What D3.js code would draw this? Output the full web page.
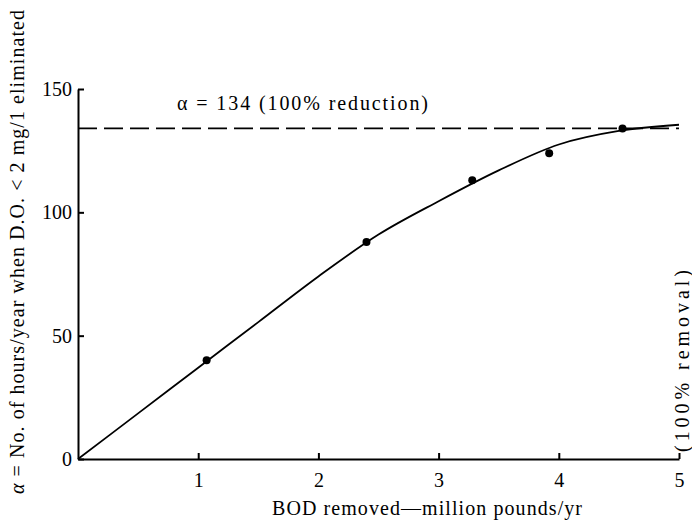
<!DOCTYPE html>
<style>
body { margin: 0; background: #fff; }
svg { font-family: "Liberation Serif", "Times New Roman", serif; }
</style>
<script src="https://d3js.org/d3.v7.min.js"></script>
<svg width="692" height="526"></svg>
<script>
// measured points
var bodX = [1.07, 2.40, 3.28, 3.92, 4.53];
var alphaY = [40, 88, 113, 124, 134];

// smooth fitted curve
var curveX = [0, 0.5, 1, 1.5, 2, 2.5, 3, 3.5, 4, 4.5, 5];
var curveY = [0, 18.5, 37, 55.5, 74, 91, 104.5, 117, 127.5, 133, 135.5];

var xTicks = [1, 2, 3, 4, 5];
var yTicks = [0, 50, 100, 150];
var alphaMax = 134;

var svg = d3.select("svg");

var x = d3.scaleLinear().domain([0, 5]).range([78, 679]),
    y = d3.scaleLinear().domain([0, 150]).range([459, 89]);

var axisStyle = function(g) {
  g.select(".domain").attr("stroke-width", 2).attr("stroke", "#000");
  g.selectAll(".tick line").attr("stroke-width", 2).attr("stroke", "#000");
  g.selectAll(".tick text").attr("font-size", 20).attr("fill", "#000")
    .attr("font-family", "Liberation Serif, serif");
};

svg.append("g")
    .attr("transform", "translate(0," + y(0) + ")")
    .call(d3.axisTop(x).tickValues(xTicks).tickSize(6).tickSizeOuter(0).tickFormat(d3.format("d")))
    .call(axisStyle)
    .call(function(g) {
      g.selectAll(".tick text").attr("y", 28).attr("dy", 0);
    });

svg.append("g")
    .attr("transform", "translate(" + x(0) + ",0)")
    .call(d3.axisRight(y).tickValues(yTicks).tickSize(6).tickSizeOuter(0).tickFormat(d3.format("d")))
    .call(axisStyle)
    .call(function(g) {
      g.selectAll(".tick text").attr("x", -6).attr("text-anchor", "end");
    });

// 100% reduction line
svg.append("line")
    .attr("x1", x(0)).attr("x2", x(5))
    .attr("y1", y(alphaMax)).attr("y2", y(alphaMax))
    .attr("stroke", "#000").attr("stroke-width", 1.8)
    .attr("stroke-dasharray", "19,7");

svg.append("text")
    .attr("x", 177).attr("y", y(alphaMax) - 18)
    .attr("font-size", 20)
    .attr("textLength", 251)
    .attr("lengthAdjust", "spacing")
    .text("\u03b1 = 134 (100% reduction)");

var line = d3.line()
    .x(function(d) { return x(d[0]); })
    .y(function(d) { return y(d[1]); })
    .curve(d3.curveMonotoneX);

svg.append("path")
    .datum(d3.zip(curveX, curveY))
    .attr("d", line)
    .attr("fill", "none")
    .attr("stroke", "#000")
    .attr("stroke-width", 1.8);

svg.selectAll("circle.pt")
    .data(d3.zip(bodX, alphaY))
  .enter().append("circle")
    .attr("class", "pt")
    .attr("cx", function(d) { return x(d[0]); })
    .attr("cy", function(d) { return y(d[1]); })
    .attr("r", 4)
    .attr("fill", "#000");

svg.append("text")
    .attr("x", 427).attr("y", 515)
    .attr("text-anchor", "middle")
    .attr("font-size", 20)
    .attr("textLength", 310)
    .attr("lengthAdjust", "spacing")
    .text("BOD removed\u2014million pounds/yr");

svg.append("text")
    .attr("transform", "translate(24,252) rotate(-90)")
    .attr("text-anchor", "middle")
    .attr("font-size", 20)
    .attr("textLength", 484)
    .attr("lengthAdjust", "spacing")
    .call(function(t) {
      t.append("tspan").attr("font-style", "italic").text("\u03b1");
      t.append("tspan").text(" = No. of hours/year when D.O. < 2 mg/1 eliminated");
    });

svg.append("text")
    .attr("transform", "translate(689,361) rotate(-90)")
    .attr("text-anchor", "middle")
    .attr("font-size", 20)
    .attr("textLength", 182)
    .attr("lengthAdjust", "spacing")
    .text("(100% removal)");
</script>
